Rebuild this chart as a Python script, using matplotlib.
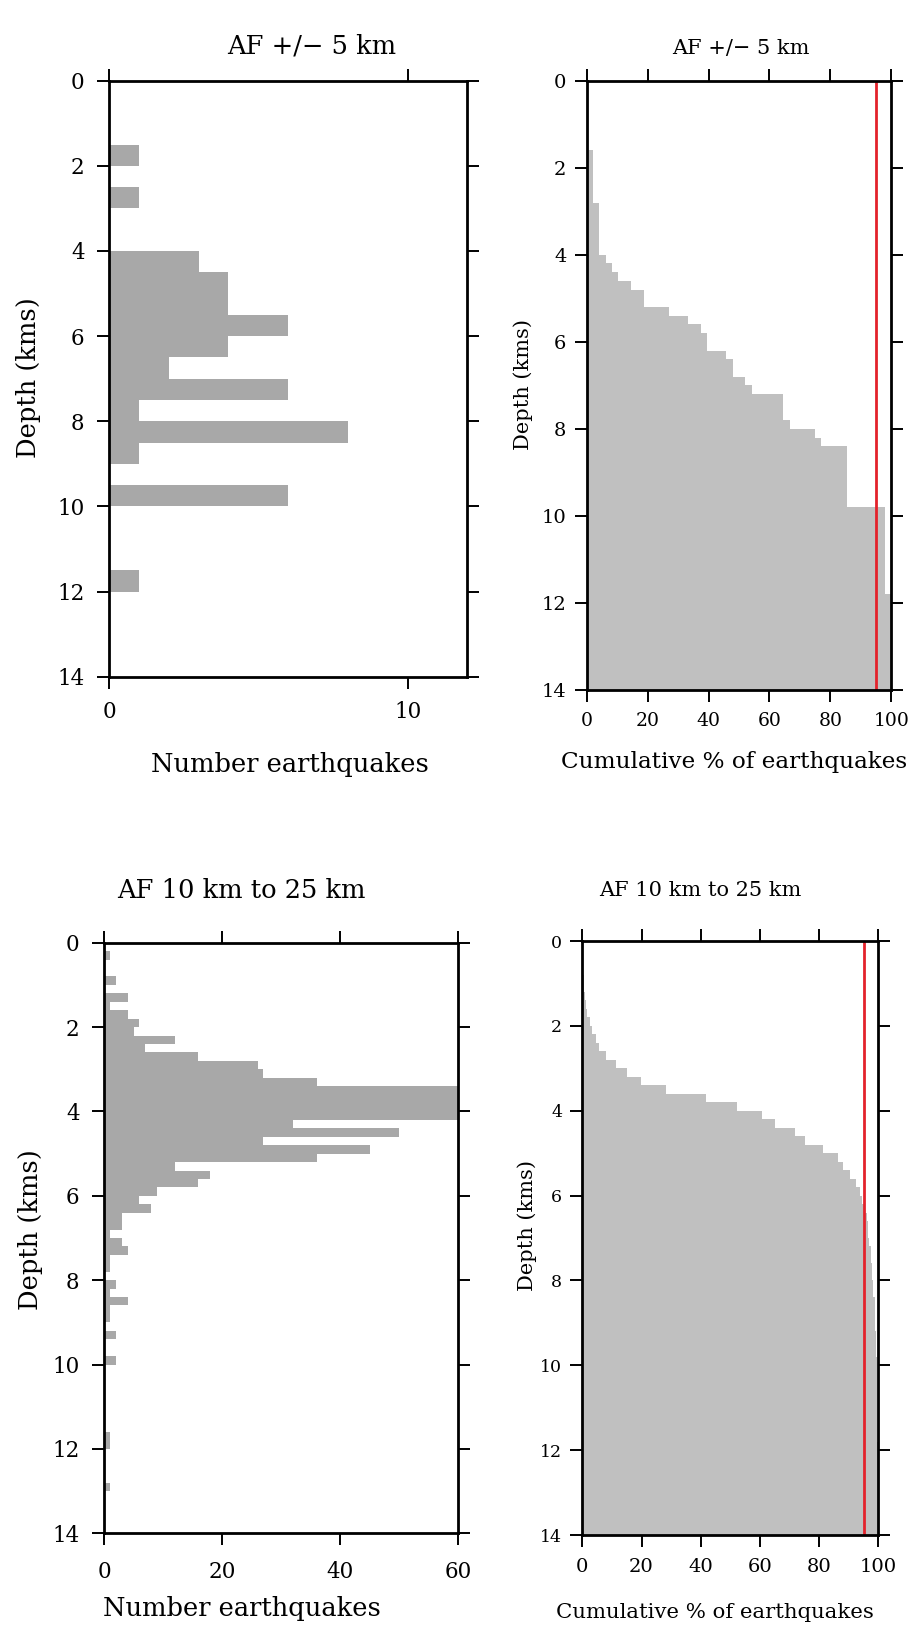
import numpy as np
import matplotlib
matplotlib.use('Agg')
import matplotlib.pyplot as plt

plt.rcParams['font.family'] = ['DejaVu Serif']

# ---------------- data ----------------
# Top row: AF +/- 5 km  (histogram in 0.5 km bins)
top_hist_depth = [1.5, 2.5, 4.0, 4.5, 5.0, 5.5, 6.0, 6.5, 7.0, 7.5, 8.0, 8.5, 9.5, 11.5]
top_hist_count = [1, 1, 3, 4, 4, 6, 4, 2, 6, 1, 8, 1, 6, 1]
# Top row cumulative: events per 0.2 km step
top_cum_depth = [1.6, 2.8, 4.0, 4.2, 4.4, 4.6, 4.8, 5.2, 5.4, 5.6, 5.8, 6.2, 6.4,
                 6.8, 7.0, 7.2, 7.8, 8.0, 8.2, 8.4, 9.8, 11.8]
top_cum_count = [1, 1, 1, 1, 1, 2, 2, 4, 3, 2, 1, 3, 1, 2, 1, 5, 1, 4, 1, 4, 6, 1]

# Bottom row: AF 10 km to 25 km (histogram in 0.2 km bins)
bot_depth = [0.2, 0.8, 1.2, 1.4, 1.6, 1.8, 2.0, 2.2, 2.4, 2.6, 2.8, 3.0, 3.2, 3.4,
             3.6, 3.8, 4.0, 4.2, 4.4, 4.6, 4.8, 5.0, 5.2, 5.4, 5.6, 5.8, 6.0, 6.2,
             6.4, 6.6, 6.8, 7.0, 7.2, 7.4, 7.6, 8.0, 8.2, 8.4, 8.6, 8.8, 9.2, 9.8,
             11.6, 11.8, 12.8]
bot_count = [1, 2, 4, 1, 4, 6, 5, 12, 7, 16, 26, 27, 36, 62,
             100, 77, 62, 32, 50, 27, 45, 36, 12, 18, 16, 9, 6, 8,
             3, 3, 1, 3, 4, 1, 1, 2, 1, 4, 1, 1, 2, 2,
             1, 1, 1]

pct_line = 95
depth_ticks = [0, 2, 4, 6, 8, 10, 12, 14]

titles = ["AF +/\u2212 5 km", "AF +/\u2212 5 km", "AF 10 km to 25 km", "AF 10 km to 25 km"]
xlab_hist = "Number earthquakes"
xlab_cum = "Cumulative % of earthquakes"
ylab = "Depth (kms)"

HIST_C = '#a8a8a8'
CUM_C = '#c0c0c0'
RED = '#e3222b'

# ---------------- layout ----------------
W, H = 910, 1626
fig = plt.figure(figsize=(W / 100, H / 100), dpi=100)


def add_ax(x0, y0, x1, y1):
    return fig.add_axes([x0 / W, 1 - y1 / H, (x1 - x0) / W, (y1 - y0) / H])


def ftext(x, y, s, fs, rot=0):
    fig.text(x / W, 1 - y / H, s, fontsize=fs, rotation=rot, ha='center', va='center')


def style(ax, xticks, xlim, xfs, yfs, xpad, ypad):
    ax.set_ylim(14, 0)
    ax.set_xlim(*xlim)
    ax.set_yticks(depth_ticks)
    ax.set_xticks(xticks)
    ax.tick_params(direction='out', length=8.6, width=1.4, top=True, right=True,
                   color='black')
    ax.tick_params(axis='x', labelsize=xfs, pad=xpad)
    ax.tick_params(axis='y', labelsize=yfs, pad=ypad)
    for s in ax.spines.values():
        s.set_linewidth(2.0)
        s.set_zorder(5)


# Panel 1: top-left histogram
ax1 = add_ax(109, 80.7, 467.3, 676.7)
ax1.barh(top_hist_depth, top_hist_count, height=0.5, align='edge', color=HIST_C,
         edgecolor='none')
style(ax1, [0, 10], (0, 12), 15.5, 15.5, 9.0, 9.0)

# Panel 2: top-right cumulative
ax2 = add_ax(586.7, 80.7, 891.3, 690)
c2 = np.cumsum(top_cum_count) / np.sum(top_cum_count) * 100
y2 = np.concatenate([[0], top_cum_depth, [14]])
x2 = np.concatenate([[0], c2, [c2[-1]]])
ax2.fill_betweenx(y2, 0, x2, step='post', color=CUM_C, linewidth=0)
ax2.axvline(pct_line, color=RED, lw=2.0, zorder=3)
style(ax2, [0, 20, 40, 60, 80, 100], (0, 100), 13.5, 14, 7.0, 6.0)

# Panel 3: bottom-left histogram
ax3 = add_ax(104, 942.7, 458.3, 1533.3)
ax3.barh(bot_depth, bot_count, height=0.2, align='edge', color=HIST_C,
         edgecolor='none')
style(ax3, [0, 20, 40, 60], (0, 60), 15.5, 15.5, 11.0, 9.0)

# Panel 4: bottom-right cumulative
ax4 = add_ax(582.3, 941, 878.3, 1535)
c4 = np.cumsum(bot_count) / np.sum(bot_count) * 100
y4 = np.concatenate([[0], bot_depth, [14]])
x4 = np.concatenate([[0], c4, [c4[-1]]])
ax4.fill_betweenx(y4, 0, x4, step='post', color=CUM_C, linewidth=0)
ax4.axvline(pct_line, color=RED, lw=2.0, zorder=3)
style(ax4, [0, 20, 40, 60, 80, 100], (0, 100), 14, 12.5, 8.0, 6.0)

# titles
ftext(312, 46, titles[0], 18.5)
ftext(741, 49, titles[1], 15)
ftext(241.7, 890, titles[2], 18.5)
ftext(700, 890, titles[3], 15)

# x labels
ftext(290, 764, xlab_hist, 18.5)
ftext(734, 762, xlab_cum, 16.7)
ftext(241.7, 1608, xlab_hist, 18.5)
ftext(715, 1612, xlab_cum, 15.3)

# y labels
ftext(29, 378, ylab, 18.5, rot=90)
ftext(523, 385, ylab, 15, rot=90)
ftext(31, 1230, ylab, 18.5, rot=90)
ftext(527, 1225, ylab, 15, rot=90)

fig.savefig('out.png', dpi=100)
